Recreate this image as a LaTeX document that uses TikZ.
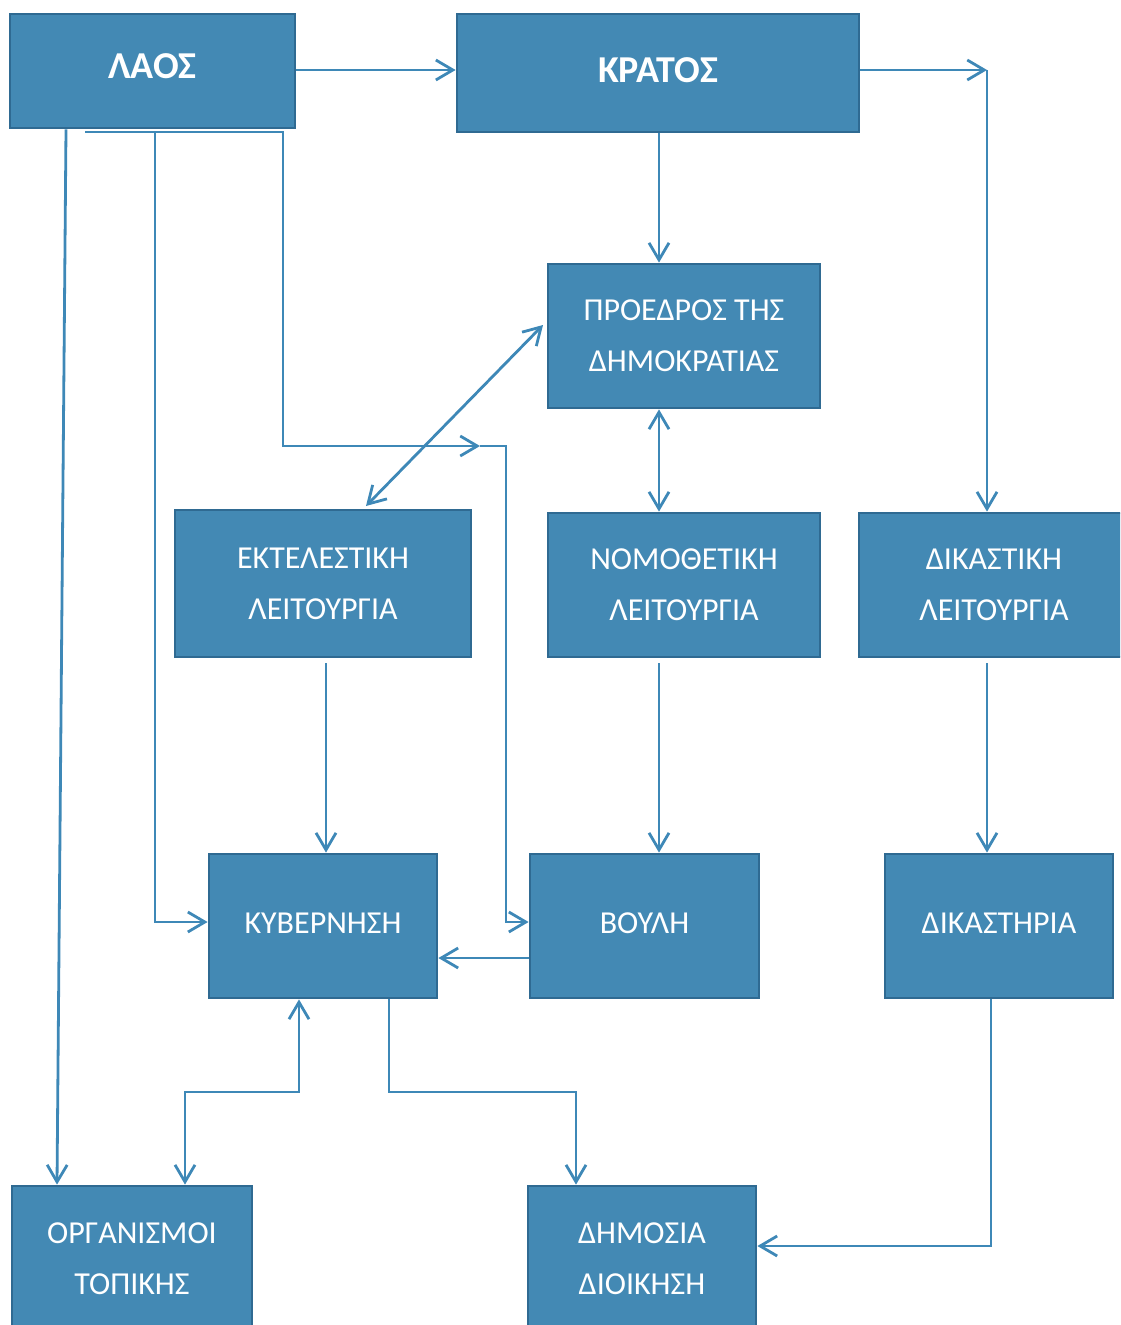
\documentclass[tikz,border=0pt]{standalone}
\usepackage{fontspec}
\setmainfont{Carlito}
\usetikzlibrary{arrows.meta,calc}
\definecolor{boxfill}{HTML}{4389B4}
\definecolor{boxdraw}{HTML}{2F6A92}
\definecolor{linecol}{HTML}{3E88B7}
\begin{document}
\begin{tikzpicture}[x=1pt,y=-1pt,
  box/.style={draw=boxdraw, line width=2.8pt, fill=boxfill, text=white, align=center, inner sep=0pt,
    font=\fontsize{32}{51}\selectfont},
  bbox/.style={box, font=\fontsize{38}{44}\selectfont\bfseries},
  conn/.style={draw=linecol, line width=2.8pt},
  arr/.style={conn, -{Straight Barb[length=17pt,width=20pt,line width=2.8pt]}},
  arrr/.style={conn, {Straight Barb[length=17pt,width=20pt,line width=2.8pt]}-{Straight Barb[length=17pt,width=20pt,line width=2.8pt]}}
]
\useasboundingbox (0,0) rectangle (1120,1325);
\clip (0,0) rectangle (1120,1325);

\node[bbox, minimum width=285pt, minimum height=114pt] (laos) at (152.5,71) {\raisebox{9pt}{ΛΑΟΣ}};
\node[bbox, minimum width=402pt, minimum height=118pt] (kratos) at (658,73) {\raisebox{5pt}{ΚΡΑΤΟΣ}};
\node[box, minimum width=272pt, minimum height=144pt] (proedros) at (684,336) {ΠΡΟΕΔΡΟΣ ΤΗΣ\\ΔΗΜΟΚΡΑΤΙΑΣ};
\node[box, minimum width=296pt, minimum height=147pt] (ektel) at (323,583.5) {ΕΚΤΕΛΕΣΤΙΚΗ\\ΛΕΙΤΟΥΡΓΙΑ};
\node[box, minimum width=272pt, minimum height=144pt] (nomo) at (684,585) {ΝΟΜΟΘΕΤΙΚΗ\\ΛΕΙΤΟΥΡΓΙΑ};
\node[box, minimum width=270pt, minimum height=144pt] (dikast) at (994,585) {ΔΙΚΑΣΤΙΚΗ\\ΛΕΙΤΟΥΡΓΙΑ};
\node[box, minimum width=228pt, minimum height=144pt] (kyv) at (323,926) {\raisebox{6pt}{ΚΥΒΕΡΝΗΣΗ}};
\node[box, minimum width=229pt, minimum height=144pt] (vouli) at (644.5,926) {\raisebox{6pt}{ΒΟΥΛΗ}};
\node[box, minimum width=228pt, minimum height=144pt] (dikastiria) at (999,926) {\raisebox{6pt}{ΔΙΚΑΣΤΗΡΙΑ}};
\node[box, minimum width=240pt, minimum height=146pt] (organ) at (132,1259) {ΟΡΓΑΝΙΣΜΟΙ\\ΤΟΠΙΚΗΣ};
\node[box, minimum width=228pt, minimum height=146pt] (dimosia) at (642,1259) {ΔΗΜΟΣΙΑ\\ΔΙΟΙΚΗΣΗ};

\coordinate (k1) at (987,70);
\coordinate (l1) at (85,132);
\coordinate (l2) at (480,446);
\coordinate (pd) at (543,325);
\coordinate (ed) at (366,506);
\coordinate (kb) at (299,1092);
\coordinate (kd) at (576,1092);

% ΛΑΟΣ -> ΚΡΑΤΟΣ
\draw[arr] (laos.east |- 0,70) -- (kratos.west |- 0,70);
% ΚΡΑΤΟΣ -> corner -> ΔΙΚΑΣΤΙΚΗ
\draw[arr] (kratos.east |- 0,70) -- (k1);
\draw[arr] (k1) -- (dikast.north -| k1);
% ΚΡΑΤΟΣ -> ΠΡΟΕΔΡΟΣ
\draw[arr] (kratos.south -| 659,0) -- (proedros.north -| 659,0);
% ΠΡΟΕΔΡΟΣ <-> ΝΟΜΟΘΕΤΙΚΗ
\draw[arrr] (proedros.south -| 659,0) -- (nomo.north -| 659,0);
% ΠΡΟΕΔΡΟΣ <-> ΕΚΤΕΛΕΣΤΙΚΗ
\draw[arrr] (pd) -- (ed);
% ΛΑΟΣ -> ... -> ΒΟΥΛΗ
\draw[arr] (l1) -- (283,132) -- (283,446) -- (l2);
\draw[arr] (l2) -- (506,446) -- (506,922) -- (vouli.west |- 0,922);
% ΛΑΟΣ -> ΚΥΒΕΡΝΗΣΗ
\draw[arr] (155,132) |- (kyv.west |- 0,922);
% ΛΑΟΣ -> ΟΡΓΑΝΙΣΜΟΙ
\draw[arr] (laos.south -| 66,0) -- (organ.north -| 57,0);
% ΕΚΤΕΛΕΣΤΙΚΗ -> ΚΥΒΕΡΝΗΣΗ
\draw[arr] ($(ektel.south -| 326,0)+(0,5)$) -- (kyv.north -| 326,0);
% ΝΟΜΟΘΕΤΙΚΗ -> ΒΟΥΛΗ
\draw[arr] ($(nomo.south -| 659,0)+(0,5)$) -- (vouli.north -| 659,0);
% ΔΙΚΑΣΤΙΚΗ -> ΔΙΚΑΣΤΗΡΙΑ
\draw[arr] ($(dikast.south -| 987,0)+(0,5)$) -- (dikastiria.north -| 987,0);
% ΒΟΥΛΗ -> ΚΥΒΕΡΝΗΣΗ
\draw[arr] (vouli.west |- 0,958) -- (kyv.east |- 0,958);
% ΚΥΒΕΡΝΗΣΗ <-> ΟΡΓΑΝΙΣΜΟΙ
\draw[arrr] (kyv.south -| kb) -- (kb) -- (185,1092) -- (organ.north -| 185,0);
% ΚΥΒΕΡΝΗΣΗ -> ΔΗΜΟΣΙΑ
\draw[arr] (kyv.south -| 389,0) -- (389,1092) -- (kd) -- (dimosia.north -| kd);
% ΔΙΚΑΣΤΗΡΙΑ -> ΔΗΜΟΣΙΑ
\draw[arr] (dikastiria.south -| 991,0) |- (dimosia.east |- 0,1246);
\end{tikzpicture}
\end{document}
